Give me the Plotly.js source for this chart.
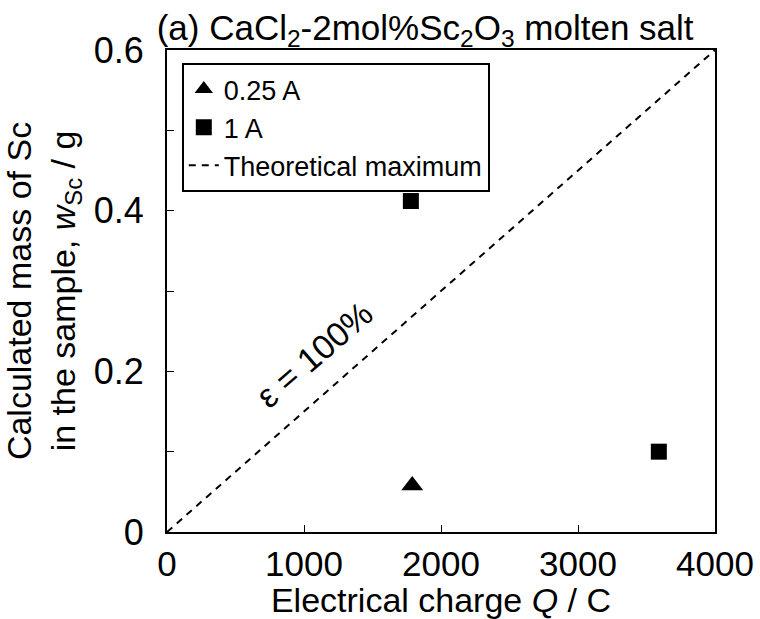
<!DOCTYPE html>
<html>
<head>
<meta charset="utf-8">
<script src="https://cdn.plot.ly/plotly-3.0.1.min.js"></script>
<style>html,body{margin:0;padding:0;background:#fff;}#chart{width:760px;height:619px;}</style>
</head>
<body>
<div id="chart"></div>
<script>
// Data
const triQ = [1790];          // 0.25 A, electrical charge / C
const triW = [0.058];         // 0.25 A, calculated mass of Sc / g
const sqQ = [1780, 3590];     // 1 A
const sqW = [0.412, 0.100];
const theoQ = [0, 4000];      // theoretical maximum (epsilon = 100%)
const theoW = [0, 0.6];
const xTickVals = [0, 1000, 2000, 3000, 4000];
const xTickText = ['0', '1000', '2000', '3000', '4000'];
const yTickVals = [0, 0.1, 0.2, 0.3, 0.4, 0.5, 0.6];
const yTickText = ['0', '', '0.2', '', '0.4', '', '0.6'];

const FONT = 'Liberation Sans, Arial, Helvetica, sans-serif';

const traces = [
  {x: triQ, y: triW, type: 'scatter', mode: 'markers', name: '0.25 A',
   marker: {symbol: 'triangle-up', size: 19, color: '#000', line: {width: 0}}},
  {x: sqQ, y: sqW, type: 'scatter', mode: 'markers', name: '1 A',
   marker: {symbol: 'square', size: 16, color: '#000', line: {width: 0}}},
  {x: theoQ, y: theoW, type: 'scatter', mode: 'lines', name: 'Theoretical maximum',
   line: {color: '#000', width: 2, dash: '7px,6px'}}
];

const layout = {
  width: 760, height: 619, autosize: false,
  margin: {l: 167, r: 45, t: 50, b: 87, pad: 0},
  paper_bgcolor: '#fff', plot_bgcolor: '#fff',
  font: {family: FONT, color: '#000', size: 30},
  showlegend: true,
  title: {
    text: '(a) CaCl<sub>2</sub>-2mol%Sc<sub>2</sub>O<sub>3</sub> molten salt',
    font: {family: FONT, size: 35, color: '#000'},
    xref: 'paper', x: 0.471, xanchor: 'center',
    yref: 'container', y: 0.955, yanchor: 'middle'
  },
  xaxis: {
    range: [0, 4000], tickvals: xTickVals, ticktext: xTickText,
    ticks: 'inside', ticklen: 7, tickwidth: 1, tickcolor: '#000',
    showline: true, linewidth: 2, linecolor: '#000', mirror: true,
    showgrid: false, zeroline: false,
    tickfont: {family: FONT, size: 35, color: '#000'},
    ticklabelstandoff: 0,
    title: {text: 'Electrical charge <i>Q</i> / C', font: {family: FONT, size: 34, color: '#000'}, standoff: 2}
  },
  yaxis: {
    range: [0, 0.6], tickvals: yTickVals, ticktext: yTickText,
    ticks: 'inside', ticklen: 7, tickwidth: 1, tickcolor: '#000',
    showline: true, linewidth: 2, linecolor: '#000', mirror: true,
    showgrid: false, zeroline: false,
    tickfont: {family: FONT, size: 36, color: '#000'},
    ticklabelstandoff: 14,
    title: {text: 'Calculated mass of Sc<br>in the sample, <i>w</i><sub>Sc</sub> / g', font: {family: FONT, size: 34, color: '#000'}, standoff: 8}
  },
  legend: {
    x: 0.027, y: 0.973, xanchor: 'left', yanchor: 'top',
    bordercolor: '#000', borderwidth: 2, bgcolor: '#fff',
    font: {family: FONT, size: 27, color: '#000'},
    tracegroupgap: 0
  },
  annotations: [{
    x: 1080, y: 0.221, xref: 'x', yref: 'y',
    text: 'ε = 100%', showarrow: false, textangle: -41,
    font: {family: FONT, size: 34, color: '#000'}
  }]
};

Plotly.newPlot('chart', traces, layout, {displayModeBar: false, staticPlot: true});
</script>
</body>
</html>
